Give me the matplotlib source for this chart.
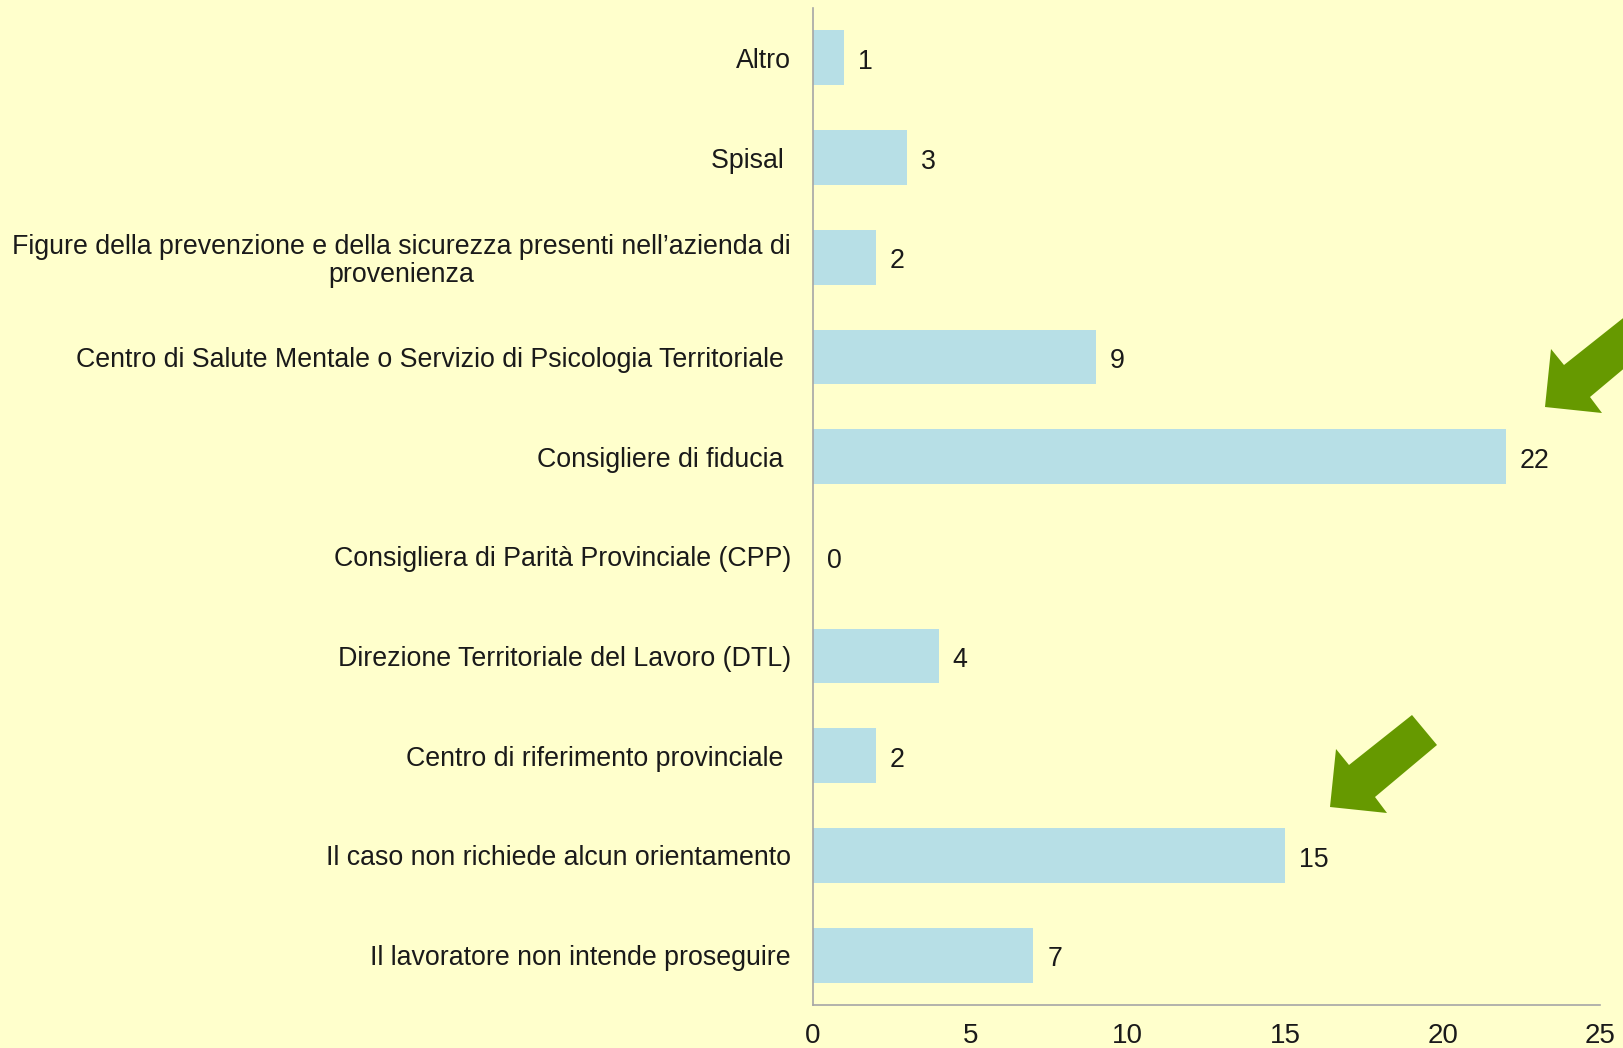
import matplotlib
matplotlib.use("Agg")
import matplotlib.pyplot as plt
from matplotlib.patches import Polygon

plt.rcParams['font.family'] = ['Liberation Sans', 'DejaVu Sans']

categories = [
    "Altro",
    "Spisal ",
    "Figure della prevenzione e della sicurezza presenti nell\u2019azienda di\nprovenienza",
    "Centro di Salute Mentale o Servizio di Psicologia Territoriale ",
    "Consigliere di fiducia ",
    "Consigliera di Parità Provinciale (CPP)",
    "Direzione Territoriale del Lavoro (DTL)",
    "Centro di riferimento provinciale ",
    "Il caso non richiede alcun orientamento",
    "Il lavoratore non intende proseguire",
]
values = [1, 3, 2, 9, 22, 0, 4, 2, 15, 7]
xticks = [0, 5, 10, 15, 20, 25]

BG = "#FFFFCC"
BAR = "#B7DFE6"
GREEN = "#669900"
FS = 19.3

W, H = 1624, 1048
fig = plt.figure(figsize=(W / 100, H / 100), dpi=100, facecolor=BG)
ax = fig.add_axes([813 / W, 1 - 1005 / H, (1600 - 813) / W, (1005 - 8) / H])
ax.set_facecolor(BG)

y = list(range(len(categories)))
bars = ax.barh(y, values, height=0.55, color=BAR)
ax.set_ylim(len(categories) - 0.5, -0.5)
ax.set_xlim(0, 25)
ax.set_xticks(xticks)
ax.set_xticklabels([str(t) for t in xticks], fontsize=20)
ax.set_yticks(y)
ax.set_yticklabels(categories, fontsize=FS, multialignment='center', linespacing=1.1)
ax.tick_params(axis='both', length=0, colors='#1a1a1a')
ax.tick_params(axis='x', pad=13)
ax.tick_params(axis='y', pad=16)

for yi, v in zip(y, values):
    ax.annotate(str(v), xy=(v, yi), xytext=(10, -3), textcoords='offset points',
                ha='left', va='center', fontsize=FS, color='#1a1a1a')

for s in ['top', 'right']:
    ax.spines[s].set_visible(False)
for s in ['left', 'bottom']:
    ax.spines[s].set_color("#A6A6A6")
    ax.spines[s].set_linewidth(1.2)

# decorative arrows (pixel coordinates, top-left origin)
arrow = [(1330, 807), (1336, 749), (1349, 765), (1412, 715), (1437, 745), (1375, 797), (1387, 813)]
for dx, dy in [(0, 0), (215, -400)]:
    pts = [(x + dx, H - (yy + dy)) for x, yy in arrow]
    fig.patches.append(Polygon(pts, closed=True, transform=None, facecolor=GREEN,
                               edgecolor='none', figure=fig))

fig.savefig("out.png", dpi=100, facecolor=BG)
